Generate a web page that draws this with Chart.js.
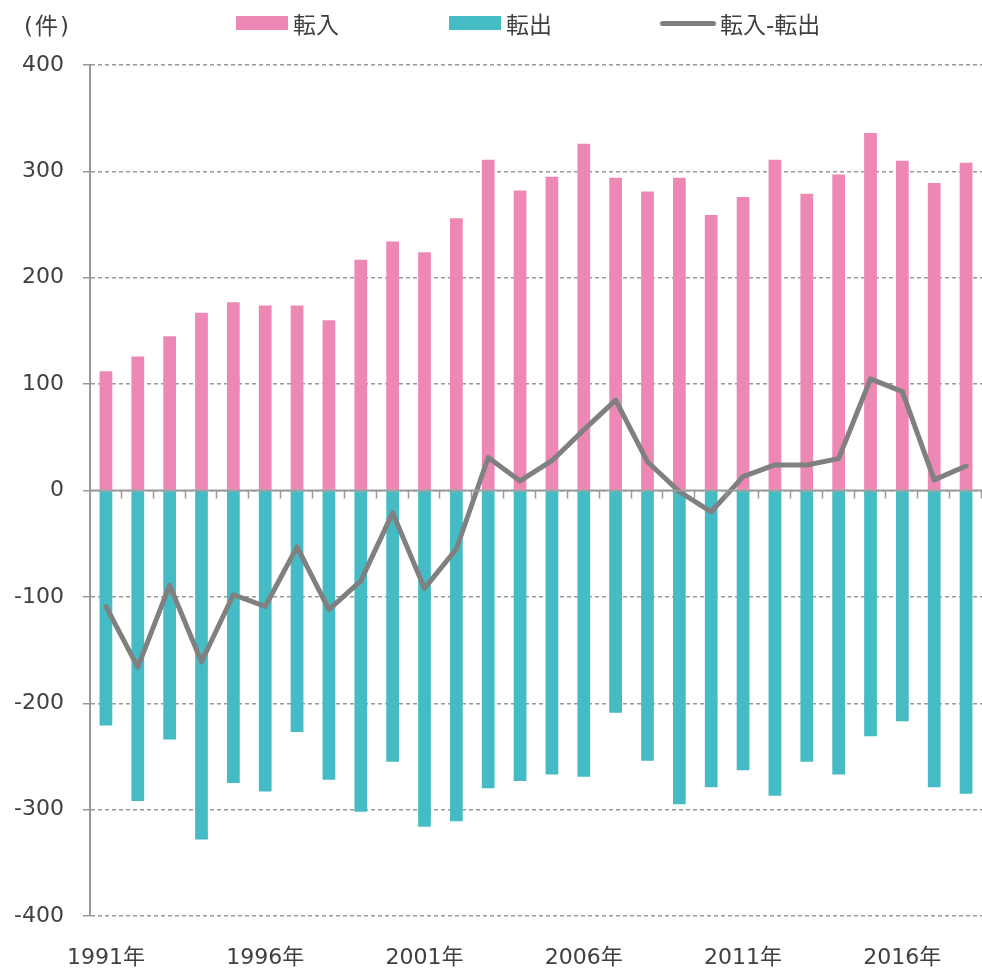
<!DOCTYPE html>
<html>
<head>
<meta charset="utf-8">
<script src="https://cdn.jsdelivr.net/npm/chart.js@4/dist/chart.umd.min.js"></script>
<style>
  html, body { margin: 0; padding: 0; background: #fff; }
  #wrap { position: relative; width: 982px; height: 969px; }
  #chart { position: absolute; left: 0; top: 0; }
  .unit, .legend-item { position: absolute; color: #404040;
    font-family: "DejaVu Sans", "Noto Sans CJK JP", sans-serif; }
  .unit { left: 24px; top: 10px; font-size: 23px; line-height: 32px; letter-spacing: 2px; }
  .legend-item { top: 6px; height: 34px; display: flex; align-items: center; font-size: 23px; }
  .swatch { display: inline-block; margin-right: 5px; }
</style>
</head>
<body>
<div id="wrap">
  <canvas id="chart" width="982" height="969"></canvas>
  <div class="unit">(件)</div>
  <div id="legend"></div>
</div>
<script>
const years = [1991, 1992, 1993, 1994, 1995, 1996, 1997, 1998, 1999, 2000,
  2001, 2002, 2003, 2004, 2005, 2006, 2007, 2008, 2009, 2010,
  2011, 2012, 2013, 2014, 2015, 2016, 2017, 2018];

const tennyu = [112, 126, 145, 167, 177, 174, 174, 160, 217, 234,
  224, 256, 311, 282, 295, 326, 294, 281, 294, 259,
  276, 311, 279, 297, 336, 310, 289, 308];

const tenshutsu = [-221, -292, -234, -328, -275, -283, -227, -272, -302, -255,
  -316, -311, -280, -273, -267, -269, -209, -254, -295, -279,
  -263, -287, -255, -267, -231, -217, -279, -285];

const net = [-109, -166, -89, -161, -98, -109, -53, -112, -85, -21,
  -92, -55, 31, 9, 28, 57, 85, 27, -1, -20,
  13, 24, 24, 30, 105, 93, 10, 23];

const yTicks = [-400, -300, -200, -100, 0, 100, 200, 300, 400];

const PINK = "#ED88B4";
const TEAL = "#45BCC5";
const GREY = "#808080";
const AXIS = "#9a9a9a";
const TEXT = "#404040";
const FONT = "'DejaVu Sans', 'Noto Sans CJK JP', sans-serif";

// zero line with small ticks between categories
const zeroAxis = {
  id: "zeroAxis",
  afterDatasetsDraw(chart) {
    const { ctx, chartArea, scales } = chart;
    const y0 = scales.y.getPixelForValue(0);
    const step = chartArea.width / years.length;
    ctx.save();
    ctx.strokeStyle = AXIS;
    ctx.lineWidth = 2;
    ctx.beginPath();
    ctx.moveTo(chartArea.left, y0);
    ctx.lineTo(chartArea.right, y0);
    ctx.stroke();
    ctx.lineWidth = 1.5;
    ctx.beginPath();
    for (let i = 1; i <= years.length; i++) {
      const x = Math.round(chartArea.left + step * i) - 0.5;
      ctx.moveTo(x, y0);
      ctx.lineTo(x, y0 + 8);
    }
    ctx.stroke();
    ctx.restore();
  }
};

const chart = new Chart(document.getElementById("chart"), {
  type: "bar",
  data: {
    labels: years.map((y) => y + "年"),
    datasets: [
      {
        type: "line",
        label: "転入-転出",
        data: net,
        borderColor: GREY,
        backgroundColor: GREY,
        borderWidth: 5,
        pointRadius: 0,
        tension: 0,
        borderJoinStyle: "round",
        borderCapStyle: "round",
        order: 0
      },
      {
        label: "転入",
        data: tennyu,
        backgroundColor: PINK,
        stack: "s",
        order: 1
      },
      {
        label: "転出",
        data: tenshutsu,
        backgroundColor: TEAL,
        stack: "s",
        order: 1
      }
    ]
  },
  options: {
    responsive: false,
    animation: false,
    layout: { padding: { top: 65, right: 0, bottom: 0, left: 0 } },
    datasets: {
      bar: { barPercentage: 0.4, categoryPercentage: 1 }
    },
    plugins: {
      legend: { display: false },
      tooltip: { enabled: false }
    },
    scales: {
      x: {
        stacked: true,
        offset: true,
        grid: { display: false, drawTicks: false },
        border: { display: false },
        afterFit(scale) {
          scale.height = 53;
          scale.paddingLeft = 0;
          scale.paddingRight = 0;
        },
        ticks: {
          autoSkip: false,
          maxRotation: 0,
          padding: 29,
          color: TEXT,
          font: { family: FONT, size: 22 },
          callback(value, index) {
            return index % 5 === 0 ? this.getLabelForValue(value) : "";
          }
        }
      },
      y: {
        stacked: true,
        min: yTicks[0],
        max: yTicks[yTicks.length - 1],
        afterFit(scale) { scale.width = 90; },
        afterBuildTicks(scale) { scale.ticks = yTicks.map((v) => ({ value: v })); },
        grid: {
          color: AXIS,
          lineWidth: 1.5,
          tickLength: 7,
          tickColor: AXIS,
          tickBorderDash: []
        },
        border: { display: true, color: AXIS, width: 2, dash: [4, 3] },
        ticks: {
          padding: 19,
          color: TEXT,
          font: { family: FONT, size: 22 }
        }
      }
    }
  },
  plugins: [zeroAxis]
});

// legend built from the datasets
const legend = document.getElementById("legend");
const legendLeft = { "転入": 236, "転出": 449, "転入-転出": 660 };
["転入", "転出", "転入-転出"].forEach((name) => {
  const ds = chart.data.datasets.find((d) => d.label === name);
  const item = document.createElement("div");
  item.className = "legend-item";
  item.style.left = legendLeft[name] + "px";
  const sw = document.createElement("span");
  sw.className = "swatch";
  if (ds.type === "line") {
    sw.style.width = "56px";
    sw.style.height = "5px";
    sw.style.borderRadius = "3px";
    sw.style.marginRight = "4px";
    sw.style.background = ds.borderColor;
  } else {
    sw.style.width = "52px";
    sw.style.height = "14px";
    sw.style.background = ds.backgroundColor;
  }
  item.appendChild(sw);
  item.appendChild(document.createTextNode(name));
  legend.appendChild(item);
});
</script>
</body>
</html>
